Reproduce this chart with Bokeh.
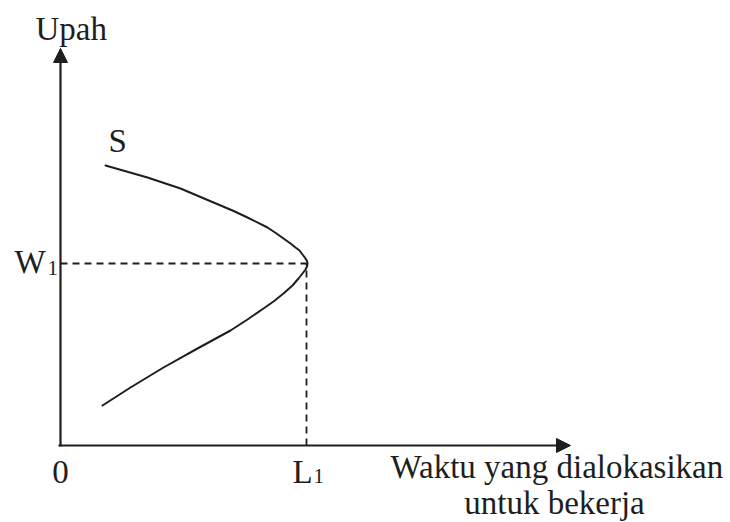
from bokeh.plotting import figure
from bokeh.models import Range1d, Arrow, NormalHead
from bokeh.core.properties import value
from bokeh.embed import file_html
from bokeh.resources import INLINE

# Supply curve S (backward-bending)
curve_x = [45, 66, 87, 120, 153, 172, 187, 207, 216, 223, 230, 235, 239, 242, 245, 246.5, 247,
           246.5, 245, 242, 238, 232, 223, 213, 203, 187, 170, 137, 103, 70, 42]
curve_y = [280, 274, 268, 257, 243, 235, 228, 218, 212, 207, 202, 198, 195, 191, 187, 184.5, 182,
           179, 176, 172, 167, 160, 152, 144, 137, 126, 115, 97, 78, 58, 40]
w1 = 182
l1 = 246
x_axis_end = 510
y_axis_end = 397

INK = "#1e1e1e"
FONT = value("Liberation Serif")

p = figure(width=730, height=522, output_backend="svg", toolbar_location=None,
           x_range=Range1d(-60, 670), y_range=Range1d(-77, 445),
           x_axis_location=None, y_axis_location=None, min_border=0)
p.grid.visible = False
p.outline_line_color = None

# axes with arrowheads
p.add_layout(Arrow(end=NormalHead(size=14, fill_color=INK, line_color=INK),
                   x_start=-2, y_start=0, x_end=x_axis_end, y_end=0,
                   line_color=INK, line_width=2.2))
p.add_layout(Arrow(end=NormalHead(size=14, fill_color=INK, line_color=INK),
                   x_start=0, y_start=-1, x_end=0, y_end=y_axis_end,
                   line_color=INK, line_width=2.2))

# dashed guides
p.line([0, l1], [w1, w1], line_color=INK, line_width=1.8, line_dash="7 5")
p.line([l1, l1], [0, w1], line_color=INK, line_width=1.8, line_dash="7 5")

# curve
p.line(curve_x, curve_y, line_color=INK, line_width=2, line_join="round", line_cap="round")

def label(x, y, t, size="33px", align="left", baseline="alphabetic"):
    p.text([x], [y], text=[t], text_font=FONT, text_font_size=size,
           text_color=INK, text_align=align, text_baseline=baseline)

label(-25, 417, "Upah")
label(48, 305, "S")
label(-46, 184, "W")
label(-13, 178, "1", size="21px")
label(0, -26, "0", align="center")
label(232, -26, "L")
label(253, -30, "1", size="21px")
label(330, -21, "Waktu yang dialokasikan")
label(494, -57, "untuk bekerja", align="center")

open("out.html", "w").write(file_html(p, INLINE))
